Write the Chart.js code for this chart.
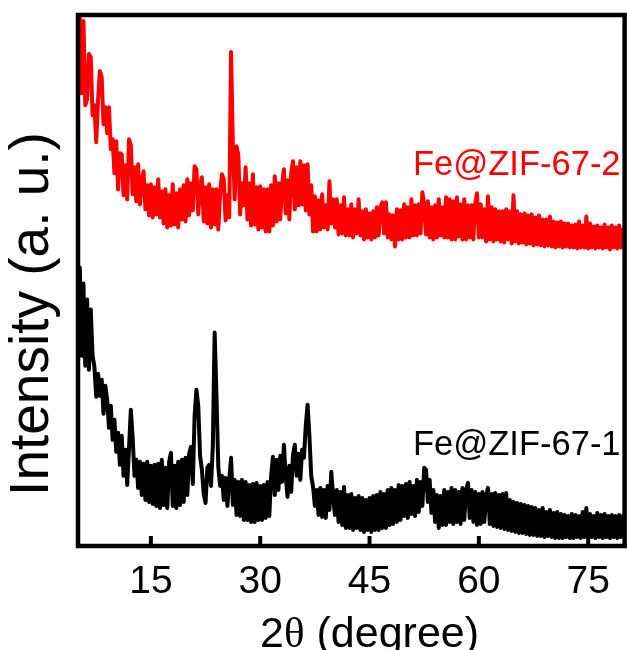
<!DOCTYPE html>
<html><head><meta charset="utf-8">
<script src="https://cdn.jsdelivr.net/npm/chart.js@4"></script>
<style>html,body{margin:0;padding:0;background:#fff;}</style>
</head><body>
<canvas id="c" width="627" height="650"></canvas>
<script>
// 2θ sampling grid: start and step (degrees)
const thetaStart = 5;
const thetaStep = 0.25;
const xTicks = [15, 30, 45, 60, 75];
const seriesNames = ['Fe@ZIF-67-2', 'Fe@ZIF-67-1'];

// Fe@ZIF-67-2 intensity (a.u., offset), 5.00 ... 80.00 every 0.25° (4 values per degree per row)
const intensity2 = [
470,528,452,524, 440,446,491,488, 430,440,403,445, 474,468,421,438, 412,438,396,406,
372,404,356,392, 391,350,380,346, 406,400,351,378, 344,381,341,365, 374,336,360,330,
361,328,358,331, 366,328,354,322, 356,318,350,320, 361,321,352,318, 356,326,360,324,
366,330,362,335, 379,376,331,360, 368,324,358,322, 361,318,356,321, 356,316,352,371,
366,325,350,328, 493,400,346,399, 390,331,362,340, 378,326,362,320, 371,321,358,316,
359,318,356,314, 356,314,360,320, 369,324,362,326, 361,376,332,365, 326,372,384,336,
378,340,384,341, 380,335,381,331, 360,314,349,314, 345,316,351,318, 340,316,364,322,
346,318,346,311, 340,312,348,310, 336,310,341,308, 336,312,346,310, 334,306,336,308,
332,306,334,308, 338,310,338,343, 312,343,308,331, 306,330,299,336, 306,335,306,341,
308,338,308,346, 310,340,310,341, 312,353,340,311, 344,308,338,306, 340,308,346,310,
338,308,348,308, 346,306,344,306, 348,309,341,306, 346,306,340,308, 340,306,342,352,
308,341,308,336, 304,349,306,338, 304,336,306,334, 304,334,303,336, 306,334,302,350,
304,334,302,331, 303,332,301,330, 302,331,300,328, 301,330,300,326, 299,326,300,329,
299,324,298,323, 299,324,298,322, 299,322,298,320, 298,321,297,324, 298,320,298,329,
297,322,298,319, 297,320,298,318, 297,321,298,318, 296,320,298,318, 297,320,298,316,
300
];

// Fe@ZIF-67-1 intensity (a.u.), 5.00 ... 80.00 every 0.25°
const intensity1 = [
200,278,190,262, 180,246,176,236, 190,179,149,172, 150,166,132,160, 146,118,140,106,
126,94,113,81, 110,70,96,61, 98,136,108,70, 86,58,84,51, 82,46,84,44,
80,42,81,40, 82,38,86,41, 78,38,84,93, 40,80,38,84, 41,86,44,88,
51,92,99,62, 130,156,140,90, 76,52,43,78, 81,60,100,213, 150,79,60,70,
46,68,40,66, 88,41,66,31, 64,30,66,26, 64,26,61,24, 62,24,63,26,
60,26,61,28, 64,30,70,89, 51,86,56,90, 64,101,70,49, 80,54,91,101,
70,92,66,96, 88,120,141,110, 70,59,40,56, 31,58,29,56, 28,60,36,74,
50,31,56,24, 54,21,59,18, 51,18,52,16, 48,18,50,16, 48,14,46,16,
48,14,50,16, 51,16,54,18, 52,18,56,21, 58,22,56,24, 61,26,60,30,
62,28,64,32, 60,30,66,34, 64,40,78,76, 44,66,33,56, 24,51,18,50,
21,56,21,54, 24,58,22,56, 24,54,22,58, 26,56,63,28, 56,24,54,21,
52,22,54,24, 50,58,22,52, 20,53,19,51, 18,52,17,53, 16,46,15,44,
14,43,13,42, 13,41,12,40, 11,39,11,38, 10,36,10,38, 9,34,10,36,
9,33,8,34, 8,32,8,31, 9,30,8,32, 8,31,9,30, 8,34,9,38,
8,32,9,30, 8,33,9,31, 8,32,9,30, 8,31,9,30, 8,31,9,30,
26
];

function toPoints(arr) {
  return arr.map((v, i) => ({ x: thetaStart + i * thetaStep, y: v }));
}

const framePlugin = {
  id: 'frame',
  afterDatasetsDraw(chart) {
    const { ctx, chartArea: a, scales } = chart;
    const xs = scales.x;
    ctx.save();
    ctx.strokeStyle = '#000';
    ctx.lineWidth = 4.5;
    ctx.strokeRect(a.left, a.top, a.right - a.left, a.bottom - a.top);
    ctx.lineWidth = 4;
    xTicks.forEach(t => {
      const px = xs.getPixelForValue(t);
      ctx.beginPath();
      ctx.moveTo(px, a.bottom);
      ctx.lineTo(px, a.bottom - 10);
      ctx.stroke();
    });
    // series labels
    ctx.textAlign = 'left';
    ctx.textBaseline = 'alphabetic';
    ctx.font = '34.5px "Liberation Sans", Arial, sans-serif';
    ctx.fillStyle = '#ff0000';
    ctx.fillText(seriesNames[0], 413, 175);
    ctx.fillStyle = '#000';
    ctx.fillText(seriesNames[1], 413, 455);
    // y title
    ctx.save();
    ctx.translate(33, 314);
    ctx.rotate(-Math.PI / 2);
    ctx.textAlign = 'center';
    ctx.textBaseline = 'middle';
    ctx.font = '55px "Liberation Sans", Arial, sans-serif';
    ctx.fillText('Intensity (a. u.)', 0, 0);
    ctx.restore();
    // x title
    const parts = [['2', '43px "Liberation Sans", Arial, sans-serif'], ['\u03b8', '43px "Liberation Serif", "Times New Roman", serif'], [' (degree)', '43px "Liberation Sans", Arial, sans-serif']];
    let total = 0;
    parts.forEach(p => { ctx.font = p[1]; total += ctx.measureText(p[0]).width; });
    let x = xs.getPixelForValue(45) - total / 2;
    ctx.textAlign = 'left';
    parts.forEach(p => { ctx.font = p[1]; ctx.fillText(p[0], x, 647); x += ctx.measureText(p[0]).width; });
    ctx.restore();
  }
};

new Chart(document.getElementById('c'), {
  type: 'line',
  data: {
    datasets: [
      { label: seriesNames[0], data: toPoints(intensity2), borderColor: '#ff0000', borderWidth: 4, pointRadius: 0, tension: 0, borderJoinStyle: 'round', borderCapStyle: 'round' },
      { label: seriesNames[1], data: toPoints(intensity1), borderColor: '#000000', borderWidth: 4, pointRadius: 0, tension: 0, borderJoinStyle: 'round', borderCapStyle: 'round' }
    ]
  },
  options: {
    responsive: false,
    animation: false,
    devicePixelRatio: 1,
    layout: { padding: { left: 78, right: 2, top: 15, bottom: 31 } },
    plugins: { legend: { display: false }, tooltip: { enabled: false } },
    scales: {
      x: {
        type: 'linear', min: 5, max: 80,
        afterBuildTicks(scale) { scale.ticks = xTicks.map(v => ({ value: v })); },
        grid: { display: false, drawTicks: false },
        border: { display: false },
        ticks: { color: '#000', padding: 17, maxRotation: 0, autoSkip: false,
          font: { family: '"Liberation Sans", Arial, sans-serif', size: 39, lineHeight: 1 } }
      },
      y: { display: false, min: 0, max: 530 }
    }
  },
  plugins: [framePlugin]
});
</script>
</body></html>
